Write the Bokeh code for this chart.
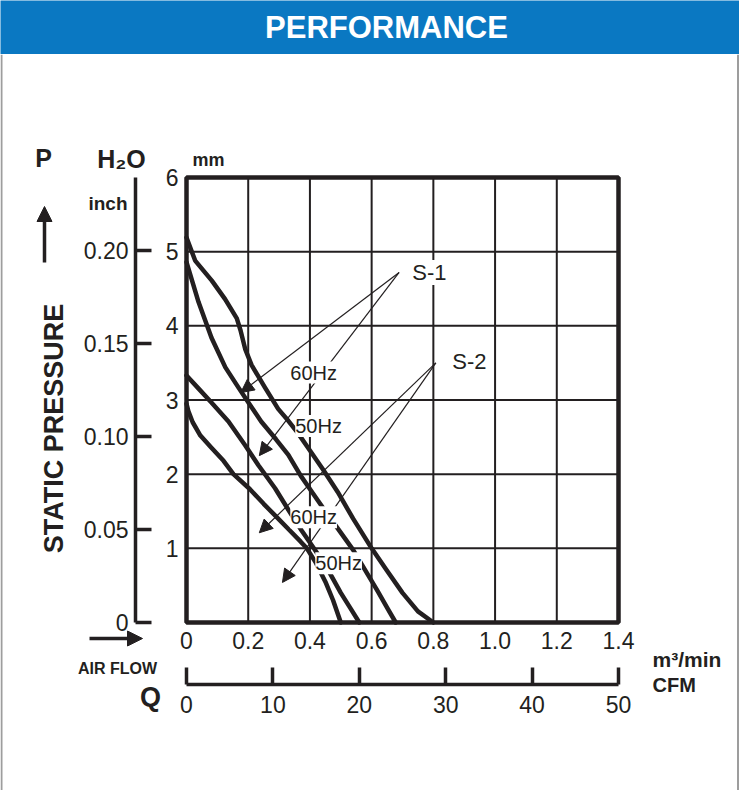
from bokeh.plotting import figure
from bokeh.models import (Range1d, LinearAxis, FixedTicker, NumeralTickFormatter,
                          ColumnDataSource, Arrow, NormalHead, LabelSet, Label)
from bokeh.layouts import column
from bokeh.embed import file_html
from bokeh.resources import INLINE
from bokeh.core.properties import value

FONT = "Liberation Sans"
INK = "#231f20"
BLUE = "#0a78c2"
EDGE = "#9d9d9d"

# ---------------- data (air flow in m3/min, static pressure in mm H2O) ----------------
s1_60_flow = [0, 0.028, 0.082, 0.125, 0.163, 0.175, 0.19, 0.211, 0.254, 0.297, 0.33, 0.36,
              0.40, 0.443, 0.49, 0.54, 0.60, 0.646, 0.70, 0.75, 0.80]
s1_60_pres = [5.19, 4.88, 4.61, 4.36, 4.10, 3.94, 3.69, 3.47, 3.17, 2.88, 2.72, 2.56,
              2.32, 2.06, 1.76, 1.40, 1.00, 0.72, 0.40, 0.15, 0.0]

s1_50_flow = [0, 0.039, 0.081, 0.126, 0.168, 0.20, 0.242, 0.29, 0.33, 0.37, 0.41, 0.45,
              0.49, 0.54, 0.58, 0.62, 0.65, 0.678]
s1_50_pres = [4.86, 4.32, 3.84, 3.44, 3.17, 2.97, 2.71, 2.47, 2.26, 1.98, 1.74, 1.50,
              1.27, 0.98, 0.70, 0.42, 0.20, 0.0]

s2_60_flow = [0, 0.04, 0.08, 0.136, 0.19, 0.233, 0.287, 0.33, 0.373, 0.416, 0.46, 0.50, 0.53, 0.56]
s2_60_pres = [3.33, 3.15, 2.97, 2.71, 2.39, 2.12, 1.81, 1.52, 1.24, 0.98, 0.70, 0.40, 0.20, 0.0]

s2_50_flow = [0, 0.006, 0.02, 0.045, 0.08, 0.12, 0.152, 0.205, 0.25, 0.29, 0.33, 0.37,
              0.39, 0.42, 0.45, 0.475, 0.50]
s2_50_pres = [2.95, 2.85, 2.70, 2.52, 2.36, 2.18, 2.00, 1.80, 1.60, 1.43, 1.26, 1.09,
              1.00, 0.80, 0.55, 0.30, 0.0]

# axes
flow_ticks = [0, 0.2, 0.4, 0.6, 0.8, 1.0, 1.2, 1.4]
flow_tick_labels = ["0", "0.2", "0.4", "0.6", "0.8", "1.0", "1.2", "1.4"]
mm_ticks = [1, 2, 3, 4, 5, 6]
mm_grid = [0, 1, 2, 3, 4, 5, 6]
inch_ticks = [0, 0.05, 0.10, 0.15, 0.20]
inch_tick_labels = ["0", "0.05", "0.10", "0.15", "0.20"]
cfm_ticks = [0, 10, 20, 30, 40, 50]

# callouts
hz_text = ["60Hz", "50Hz", "60Hz", "50Hz"]
hz_x = [0.412, 0.428, 0.412, 0.493]
hz_y = [3.37, 2.65, 1.42, 0.80]
series_text = ["S-1", "S-2"]
series_x = [0.787, 0.917]
series_y = [4.72, 3.52]
arrow_from_x = [0.689, 0.689, 0.808, 0.808]
arrow_from_y = [4.72, 4.72, 3.50, 3.50]
arrow_to_x = [0.176, 0.236, 0.236, 0.311]
arrow_to_y = [3.10, 2.25, 1.21, 0.54]

title_text = "PERFORMANCE"

# ---------------- header ----------------
hdr = figure(width=739, height=54, x_range=Range1d(0, 1), y_range=Range1d(0, 1),
             x_axis_location=None, y_axis_location=None, toolbar_location=None,
             output_backend="svg", min_border=0)
hdr.grid.visible = False
hdr.outline_line_color = None
hdr.background_fill_color = BLUE
hdr.border_fill_color = BLUE
hdr.add_layout(Label(x=386, y=27, x_units="screen", y_units="screen", text=title_text,
                     text_align="center", text_baseline="middle",
                     text_font=FONT, text_font_style="bold", text_font_size="31px",
                     text_color="white"))

# ---------------- main chart ----------------
W, H = 739, 736
BOX_L, BOX_R, BOX_T, BOX_B = 186, 618, 123, 568          # pixel box of the chart frame
kx = (BOX_R - BOX_L) / (flow_ticks[-1] - flow_ticks[0])
ky = (BOX_B - BOX_T) / (mm_grid[-1] - mm_grid[0])
x0 = -BOX_L / kx
x1 = (W - BOX_L) / kx
y0 = -(H - BOX_B) / ky
y1 = mm_grid[-1] + BOX_T / ky
inch_per_mm = 0.2392 / 6.0
cfm_per_m3 = 50 / 1.4

p = figure(width=W, height=H, x_range=Range1d(x0, x1), y_range=Range1d(y0, y1),
           x_axis_location=None, y_axis_location=None,
           toolbar_location=None, output_backend="svg", min_border=0)
p.grid.visible = False
p.background_fill_color = "white"
p.border_fill_color = "white"
p.outline_line_color = None

p.extra_y_ranges = {"inch": Range1d(y0 * inch_per_mm, y1 * inch_per_mm)}
p.extra_x_ranges = {"cfm": Range1d(x0 * cfm_per_m3, x1 * cfm_per_m3)}

def style_axis(ax, size="23px"):
    ax.major_label_text_font = FONT
    ax.major_label_text_font_size = size
    ax.major_label_text_color = INK
    ax.minor_tick_in = 0
    ax.minor_tick_out = 0

# m3/min axis
xa = LinearAxis(ticker=FixedTicker(ticks=flow_ticks), formatter=NumeralTickFormatter(format="0.0"),
                fixed_location=0, bounds=(flow_ticks[0], flow_ticks[-1]))
xa.major_label_overrides = dict(zip(flow_ticks, flow_tick_labels))
xa.major_tick_in = 0
xa.major_tick_out = 0
xa.axis_line_color = None
xa.major_label_standoff = 9
style_axis(xa)
p.add_layout(xa, "below")

# mm axis
ya = LinearAxis(ticker=FixedTicker(ticks=mm_ticks), fixed_location=0, bounds=(0, 6))
ya.major_tick_in = 0
ya.major_tick_out = 0
ya.axis_line_color = None
ya.major_label_standoff = 8
style_axis(ya)
p.add_layout(ya, "left")

# inch axis
ia = LinearAxis(y_range_name="inch", ticker=FixedTicker(ticks=inch_ticks),
                formatter=NumeralTickFormatter(format="0.00"),
                fixed_location=-51 / kx, bounds=(0, 6 * inch_per_mm))
ia.major_label_overrides = dict(zip(inch_ticks, inch_tick_labels))
ia.major_tick_in = 16
ia.major_tick_out = 0
ia.axis_line_width = 3.5
ia.axis_line_color = INK
ia.major_tick_line_width = 3.5
ia.major_tick_line_color = INK
ia.major_label_standoff = 7
style_axis(ia)
p.add_layout(ia, "left")

# CFM axis
ca = LinearAxis(x_range_name="cfm", ticker=FixedTicker(ticks=cfm_ticks),
                fixed_location=-62 / ky, bounds=(cfm_ticks[0], cfm_ticks[-1]))
ca.major_tick_in = 17
ca.major_tick_out = 0
ca.axis_line_width = 3.5
ca.axis_line_color = INK
ca.major_tick_line_width = 3.5
ca.major_tick_line_color = INK
ca.major_label_standoff = 11
style_axis(ca)
p.add_layout(ca, "below")

# grid lines inside the frame
inner_x = flow_ticks[1:-1]
inner_y = mm_grid[1:-1]
p.segment(x0=inner_x, y0=[mm_grid[0]] * len(inner_x), x1=inner_x, y1=[mm_grid[-1]] * len(inner_x),
          line_color=INK, line_width=2)
p.segment(x0=[flow_ticks[0]] * len(inner_y), y0=inner_y, x1=[flow_ticks[-1]] * len(inner_y), y1=inner_y,
          line_color=INK, line_width=2)

# curves
for fx, py in [(s1_60_flow, s1_60_pres), (s1_50_flow, s1_50_pres),
               (s2_60_flow, s2_60_pres), (s2_50_flow, s2_50_pres)]:
    p.line(fx, py, line_width=4.5, line_color=INK, line_join="round", line_cap="round")

# frame box
p.quad(left=[flow_ticks[0]], right=[flow_ticks[-1]], bottom=[mm_grid[0]], top=[mm_grid[-1]],
       fill_color=None, line_color=INK, line_width=4.5)

# callout arrows
arrow_src = ColumnDataSource(dict(x0=arrow_from_x, y0=arrow_from_y, x1=arrow_to_x, y1=arrow_to_y))
p.add_layout(Arrow(x_start="x0", y_start="y0", x_end="x1", y_end="y1", source=arrow_src,
                   line_width=1.2, line_color=INK,
                   end=NormalHead(size=13, fill_color=INK, line_color=INK, line_width=1)))

hz_src = ColumnDataSource(dict(x=hz_x, y=hz_y, t=hz_text))
p.add_layout(LabelSet(x="x", y="y", text="t", source=hz_src, text_align="center",
                      text_baseline="middle", text_font=value(FONT), text_font_size="20px",
                      text_color=INK, background_fill_color="white"))
ser_src = ColumnDataSource(dict(x=series_x, y=series_y, t=series_text))
p.add_layout(LabelSet(x="x", y="y", text="t", source=ser_src, text_align="center",
                      text_baseline="middle", text_font=value(FONT), text_font_size="22px",
                      text_color=INK, background_fill_color="white"))

# outer texts (screen units: x from left edge, y from bottom edge of the canvas)
def lab(x, y, text, size, align="center", angle=0):
    p.add_layout(Label(x=x, y=y, x_units="screen", y_units="screen", text=text,
                       text_align=align, text_baseline="middle", text_font=FONT,
                       text_font_style="bold", text_font_size=size, text_color=INK,
                       angle=angle, angle_units="deg"))

lab(43, 633, "P", "25px")
lab(121, 632, "H\u2082O", "25px")
lab(127, 587, "inch", "19px", align="right")
lab(208, 631, "mm", "18px")
lab(53, 362, "STATIC PRESSURE", "27px", angle=90)
lab(117, 122, "AIR FLOW", "16px")
lab(150, 94, "Q", "27px")
lab(652, 131, "m\u00b3/min", "21px", align="left")
lab(652, 106, "CFM", "20px", align="left")

# direction arrows
p.add_layout(Arrow(x_start=44, y_start=528, x_end=44, y_end=584,
                   start_units="screen", end_units="screen", line_width=3.5, line_color=INK,
                   end=NormalHead(size=15, fill_color=INK, line_color=INK, line_width=1)))
p.add_layout(Arrow(x_start=89, y_start=152, x_end=142, y_end=152,
                   start_units="screen", end_units="screen", line_width=3.5, line_color=INK,
                   end=NormalHead(size=15, fill_color=INK, line_color=INK, line_width=1)))

# panel border (left / right)
for bx in (1, W - 1.5):
    p.add_layout(Arrow(x_start=bx, y_start=0, x_end=bx, y_end=H, start_units="screen",
                       end_units="screen", end=None, line_color=EDGE, line_width=2))

layout = column(hdr, p)
open("out.html", "w").write(file_html(layout, INLINE))
